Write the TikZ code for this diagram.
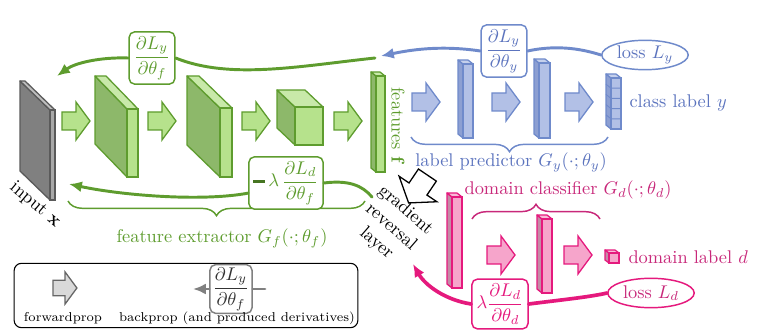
\documentclass[tikz,border=0pt]{standalone}
\usepackage{amsmath}
\usepackage{xcolor}
\usetikzlibrary{arrows.meta,positioning,shapes.geometric,decorations.pathreplacing}
\definecolor{featline}{HTML}{5E9C2E}
\definecolor{featlight}{HTML}{B6E28C}
\definecolor{featdark}{HTML}{8DB86A}
\definecolor{predline}{HTML}{6F8ACB}
\definecolor{predlight}{HTML}{B2C0E6}
\definecolor{preddark}{HTML}{8C9FD2}
\definecolor{predtext}{HTML}{5C74BE}
\definecolor{domline}{HTML}{E5197D}
\definecolor{domlight}{HTML}{F6A5CB}
\definecolor{domdark}{HTML}{C48AA6}
\definecolor{domtext}{HTML}{C8287A}
\definecolor{inline}{HTML}{5A5A5A}
\definecolor{inlight}{HTML}{A8A8A8}
\definecolor{indark}{HTML}{808080}
% front face top-left, bottom-right, depth, colour prefix
\newcommand{\layerblock}[7]{%
  \filldraw[draw=#7line, fill=#7dark, line width=0.7pt, line join=round]
    (#1,#2) -- ({#1-#5},{#2-#6}) -- ({#1-#5},{#4-#6}) -- (#1,#4) -- cycle;
  \filldraw[draw=#7line, fill=#7light!75!white, line width=0.7pt, line join=round]
    (#1,#2) -- ({#1-#5},{#2-#6}) -- ({#3-#5},{#2-#6}) -- (#3,#2) -- cycle;
  \filldraw[draw=#7line, fill=#7light, line width=0.7pt] (#1,#2) rectangle (#3,#4);
}
\newcommand{\thickminus}{\textcolor{featline!75!black}{\rule[2.2pt]{6.5pt}{1.4pt}}}

\begin{document}
\begin{tikzpicture}[x=0.544pt, y=-0.544pt,
    backline/.style={line width=1.6pt, line cap=round},
    tip/.style={-{Latex[length=7pt,width=6pt]}},
    gradbox/.style={draw, rounded corners=3pt, line width=0.8pt, fill=white, inner sep=2.5pt},
    lossnode/.style={ellipse, draw, line width=0.8pt, fill=white, inner sep=0pt,
      minimum width=47pt, minimum height=16pt},
    bracket/.style={line width=0.8pt, decorate, decoration={brace, amplitude=8pt}},
    fatarrow/.pic={\path[pic actions, line join=miter]
      (-14,-9) -- (0,-9) -- (0,-19) -- (14,0) -- (0,19) -- (0,9) -- (-14,9) -- cycle;}
  ]
  \useasboundingbox (0,0) rectangle (765,335);

  % feature extractor
  \layerblock{50}{110}{55}{200}{30}{29}{in}
  \layerblock{127}{109}{138}{177}{32}{33}{feat}
  \layerblock{220}{108}{232}{177}{33}{32}{feat}
  \layerblock{295}{107}{323}{145}{18}{17}{feat}
  \layerblock{376}{76}{385}{172}{5}{4}{feat}
  \foreach \cx in {76,162,256,348}
    \pic[draw=featline, fill=featlight, line width=0.7pt] at (\cx,121) {fatarrow};

  % label predictor
  \layerblock{463}{64}{473}{138}{5}{4}{pred}
  \layerblock{539}{63}{550}{138}{5}{4}{pred}
  \layerblock{611}{78}{621}{129}{5}{4}{pred}
  \foreach \k in {1,...,4}
    \draw[predline, line width=0.5pt] (606,{74+\k*10.2}) -- (611,{78+\k*10.2}) -- (621,{78+\k*10.2});
  \foreach \cx in {426,506,579}
    \pic[draw=predline, fill=predlight, line width=0.7pt] at (\cx,102) {fatarrow};

  % domain classifier
  \layerblock{452}{197}{462}{288}{5}{4}{dom}
  \layerblock{542}{219}{552}{293}{5}{4}{dom}
  \layerblock{609}{253}{619}{263}{4}{3}{dom}
  \foreach \cx in {501,578}
    \pic[draw=domline, fill=domlight, line width=0.7pt] at (\cx,255) {fatarrow};

  % gradient reversal
  \pic[draw=black, fill=white, line width=0.7pt, rotate=-124, scale=1.2] at (418,189) {fatarrow};
  \node[rotate=-41, align=center, inner sep=0pt] (grltext) at (391,227) {gradient\\reversal\\layer};

  % labels
  \node[rotate=-40, inner sep=0pt] (inputtext) at (35,205) {input $\mathbf{x}$};
  \node[rotate=-90, text=featline, inner sep=0pt] (feattext) at (398,126) {features $\mathbf{f}$};
  \node[anchor=west, text=predtext] (ytext) at (623,103) {class label $y$};
  \node[anchor=west, text=domtext] (dtext) at (622,257) {domain label $d$};

  % braces
  \draw[bracket, featline] (365,201) -- (68,201);
  \node[text=featline] (fextext) at (222,238) {feature extractor $G_f(\cdot;\theta_f)$};
  \draw[bracket, predline] (608,137) -- (411,137);
  \node[text=predtext] (predtext) at (511,162) {label predictor $G_y(\cdot;\theta_y)$};
  \draw[bracket, domtext] (472,219) -- (600,219);
  \node[text=domtext] (domclass) at (568,190) {domain classifier $G_d(\cdot;\theta_d)$};

  % backprop of L_y
  \node[lossnode, draw=predline, text=predtext] (lossy) at (645,55) {loss $L_y$};
  \node[gradbox, draw=predline, text=predtext] (dyy) at (504,51) {$\dfrac{\partial L_y}{\partial\theta_y}$};
  \node[gradbox, draw=featline, text=featline] (dyf) at (152,58) {$\dfrac{\partial L_y}{\partial\theta_f}$};
  \coordinate (featback) at (375,58);
  \coordinate (featend) at (381,56);
  \coordinate (inputtop) at (57,76);
  \draw[backline, predline] (lossy.west) .. controls (585,50) and (560,44) .. (dyy.east);
  \draw[backline, predline, tip] (dyy.west) .. controls (440,45) and (410,50) .. (featend);
  \draw[backline, featline] (featback) .. controls (300,66) and (230,80) .. (dyf.east);
  \draw[backline, featline, tip] (dyf.west) .. controls (100,57) and (75,63) .. (inputtop);

  % backprop of L_d
  \node[lossnode, draw=domline, text=domtext] (lossd) at (651,293) {loss $L_d$};
  \node[gradbox, draw=domline, text=domline] (dld) at (500,304) {$\lambda\dfrac{\partial L_d}{\partial\theta_d}$};
  \node[gradbox, draw=featline, text=featline] (dlf) at (286,183) {\thickminus$\,\lambda\,\dfrac{\partial L_d}{\partial\theta_f}$};
  \coordinate (grlin) at (413,264);
  \coordinate (grlout) at (372,197);
  \coordinate (inputbot) at (69,184);
  \draw[backline, domline, line width=2pt] (lossd.west) .. controls (590,297) and (560,300) .. (dld.east);
  \draw[backline, domline, line width=2pt, tip] (dld.west) .. controls (445,300) and (425,285) .. (grlin);
  \draw[backline, featline] (grlout) .. controls (362,185) and (348,180) .. (dlf.east);
  \draw[backline, featline, tip] (dlf.195) .. controls (200,202) and (120,195) .. (inputbot);

  % legend
  \node[draw, rounded corners=4pt, line width=0.6pt, minimum width=187pt, minimum height=35pt] (legend) at (186,295.5) {};
  \pic[draw=gray!80!black, fill=gray!30, line width=0.7pt, scale=0.85] at (65,288) {fatarrow};
  \node[font=\scriptsize] (fwdtext) at (63,318) {forwardprop};
  \node[gradbox, draw=gray, text=black!80, inner sep=1.5pt] (legbox) at (231,289) {$\dfrac{\partial L_y}{\partial\theta_f}$};
  \coordinate (legstart) at (265,289);
  \coordinate (legtip) at (193,289);
  \draw[backline, gray] (legstart) -- (legbox.east);
  \draw[backline, gray, tip] (legbox.west) -- (legtip);
  \node[font=\scriptsize] (backtext) at (237,318) {backprop (and produced derivatives)};
\end{tikzpicture}
\end{document}
